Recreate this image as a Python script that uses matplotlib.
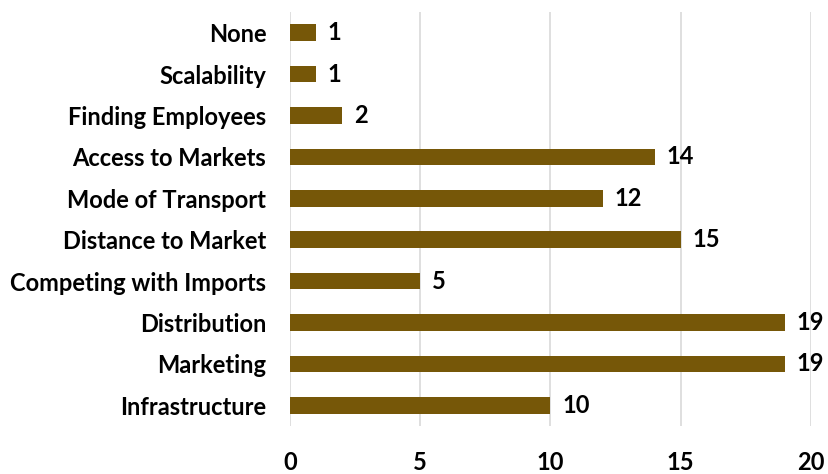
import matplotlib.pyplot as plt

categories = ["Infrastructure", "Marketing", "Distribution", "Competing with Imports",
              "Distance to Market", "Mode of Transport", "Access to Markets",
              "Finding Employees", "Scalability", "None"]
counts = [10, 19, 19, 5, 15, 12, 14, 2, 1, 1]
x_ticks = [0, 5, 10, 15, 20]

plt.rcParams['font.family'] = ['Lato', 'DejaVu Sans']

fig = plt.figure(figsize=(8.29, 4.74), dpi=100)
ax = fig.add_axes([0.3498, 0.1013, 0.6285, 0.8734])

bars = ax.barh(range(len(categories)), counts, height=0.4, color='#765708')
for bar, val in zip(bars, counts):
    ax.text(bar.get_width() + 0.45, bar.get_y() + bar.get_height() / 2, str(val),
            va='center', ha='left', fontsize=17, fontweight='bold')

ax.set_xlim(0, 20)
ax.set_ylim(-0.5, len(categories) - 0.5)
ax.set_xticks(x_ticks)
ax.set_yticks(range(len(categories)))
ax.set_yticklabels(categories, fontsize=17, fontweight='bold')
ax.tick_params(axis='x', labelsize=17, length=0, pad=18)
ax.tick_params(axis='y', length=0, pad=17)
for lab in ax.get_xticklabels():
    lab.set_fontweight('bold')

ax.xaxis.grid(True, color='#d9d9d9', linewidth=1.2)
ax.set_axisbelow(True)
for s in ax.spines.values():
    s.set_visible(False)

fig.savefig('out.png', dpi=100)
